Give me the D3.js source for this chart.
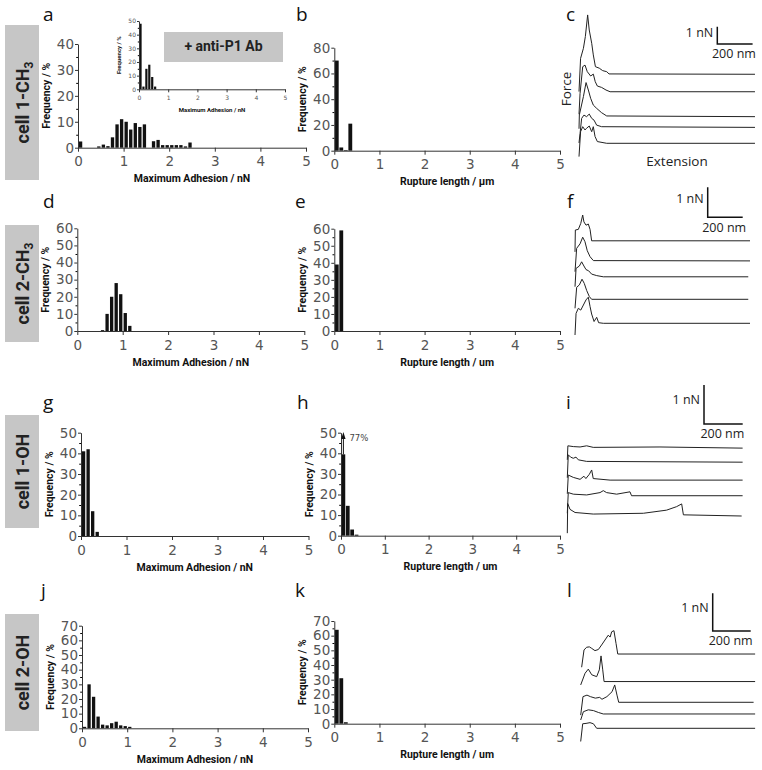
<!DOCTYPE html>
<html>
<head>
<meta charset="utf-8">
<script src="https://cdn.jsdelivr.net/npm/d3@7/dist/d3.min.js"></script>
<style>
  body { margin: 0; background: #fff; }
  svg { display: block; }
</style>
</head>
<body>
<div id="fig"></div>
<script>
// ---- data ----
const binWidth = 0.1;                 // histogram bin (nN or um)
const xTickValues = [0, 1, 2, 3, 4, 5];

// Maximum adhesion histograms (% per 0.1 nN bin, starting at 0)
const adhesionA = [2.4, 0, 0, 0, 0.5, 1.2, 0.6, 4, 9, 11, 10, 7, 9.5, 8, 9, 0, 2.5, 3, 1, 1, 1, 1, 1, 0.5, 2];
const adhesionInset = [48, 2, 15, 18, 9, 2];
const adhesionD = [0, 0, 0, 0, 0, 0.5, 10, 20, 28, 21.5, 10.5, 3];
const adhesionG = [41, 42, 12, 2];
const adhesionJ = [1, 30, 21.5, 8, 2.5, 2, 3.5, 4.5, 2, 1.5, 1];

// Rupture length histograms (% per 0.1 um bin)
const ruptureB = [70, 2.5, 0.5, 21];
const ruptureE = [39, 59];
const ruptureH = [39.5, 14.5, 3, 0.5];
const ruptureK = [64, 31, 1];
const ruptureHOverflow = 77;          // first bin of h is off scale

const rowNames = ["cell 1-CH", "cell 2-CH", "cell 1-OH", "cell 2-OH"];
const rowSubs = ["3", "3", "", ""];
const panelLetters = ["a", "b", "c", "d", "e", "f", "g", "h", "i", "j", "k", "l"];

// force-extension traces: [extension nm, force nN] relative to each baseline
const tracesC = [
  [[0,-1.0],[9,0.92],[25,1.5],[36,2.18],[49,3.43],[58,2.56],[72,1.79],[81,1.12],[93,0.44],[115,0.35],[134,0.21],[157,0.15],[170,0.02],[997,0]],
  [[0,-1.3],[6,-0.1],[21,1.45],[34,1.54],[47,1.16],[66,0.91],[81,1.02],[92,0.58],[104,0.33],[128,0.25],[153,0.1],[176,0],[997,0]],
  [[0,-0.7],[2,0.1],[25,1.16],[40,1.97],[53,1.54],[66,1.06],[81,0.67],[100,0.48],[128,0.23],[157,0.04],[997,0]],
  [[0,-0.9],[6,-0.35],[15,0.52],[28,0.71],[43,0.62],[58,0.77],[72,0.52],[85,0.42],[100,0.13],[128,0.04],[997,0]],
  [[0,-0.77],[9,0.67],[21,0.96],[34,0.77],[43,0.87],[58,1.0],[72,0.67],[81,0.96],[91,0.39],[104,0.1],[157,0],[997,0]]
];
const offsetsC = [3.99, 2.98, 1.54, 0.92, 0];

const tracesF = [
  [[0,-0.37],[2,0.36],[19,0.38],[33,0.58],[44,0.86],[51,0.63],[63,0.52],[76,0.56],[86,0.38],[95,0],[1000,0]],
  [[0,-0.36],[9.5,0.42],[29,0.57],[44,0.79],[57,0.64],[70,0.34],[86,0.14],[105,0.01],[1000,0]],
  [[0,-0.33],[6,0.28],[25,0.36],[38,0.5],[51,0.36],[63,0.24],[78,0.2],[95,0.09],[124,0.04],[162,0],[990,0]],
  [[0,-0.3],[9.5,0.4],[25,0.48],[40,0.67],[53,0.53],[67,0.29],[82,0.09],[95,0],[990,0]],
  [[0,-0.39],[6,0.33],[19,0.5],[33,0.44],[48,0.61],[63,0.78],[76,0.87],[86,0.56],[95,0.31],[109,0.06],[124,0.2],[135,0.02],[162,0],[1000,0]]
];
const offsetsF = [2.75, 2.08, 1.55, 0.8, 0];

const tracesI = [
  [[0,-0.3],[3,0.06],[31,0.04],[66,0.03],[100,0.06],[134,0.02],[479,0.03],[906,0]],
  [[0,-0.4],[5,0.19],[17,0.13],[31,0.1],[45,0.13],[57,0.06],[100,0.02],[906,0]],
  [[0,-0.35],[5,0.13],[31,0.07],[66,0.02],[86,0.1],[96,0.04],[114,0.15],[126,0.26],[134,0.04],[221,0],[906,0]],
  [[0,-0.45],[5,0.08],[31,0.04],[100,0.02],[169,0.08],[186,0.13],[203,0.08],[255,0.04],[324,0.1],[332,0],[906,0]],
  [[0,-0.44],[2,0.32],[14,0.17],[40,0.09],[134,0.05],[393,0.07],[513,0.15],[565,0.24],[591,0.31],[600,0.03],[901,0]]
];
const offsetsI = [1.74, 1.38, 0.92, 0.52, 0];

const tracesL = [
  [[5,-0.35],[17.5,0.11],[31.6,0.18],[45.6,0.19],[58,0.15],[75,0.09],[93,0.12],[110,0.24],[145,0.5],[155,0.45],[163,0.59],[175,0.62],[186,0.28],[195,0],[918,0]],
  [[0,-0.09],[23,0.22],[40,0.33],[58,0.18],[84,0.13],[98,0.31],[107,0.68],[116,0.31],[123,0],[918,0]],
  [[0,-0.34],[12,0.15],[33,0.19],[51,0.15],[77,0.11],[100,0.13],[112,0.08],[138,0.15],[165,0.28],[179,0.46],[191,0.19],[200,0],[910,0]],
  [[0,-0.16],[14,0.06],[40,0.11],[67,0.09],[93,0.04],[119,0],[918,0]],
  [[0,-0.35],[10.5,0.12],[28,0.13],[49,0.15],[67,0.12],[84,0],[918,0]]
];
const offsetsL = [1.97, 1.24, 0.69, 0.38, 0];

const scaleBarForce = 1;   // nN
const scaleBarExt = 200;   // nm

// ---- drawing ----
const width = 762, height = 770;
const svg = d3.select("#fig").append("svg")
  .attr("width", width)
  .attr("height", height)
  .style("font-family", "Roboto, sans-serif");

svg.append("rect").attr("width", width).attr("height", height).attr("fill", "#fff");

// row label boxes
const rowBoxes = [[25, 180], [225, 342], [415, 528], [614, 731]];
rowBoxes.forEach((b, i) => {
  svg.append("rect")
    .attr("x", 5).attr("y", b[0])
    .attr("width", 34).attr("height", b[1] - b[0])
    .attr("fill", "#c6c6c6");
  const t = svg.append("text")
    .attr("transform", "translate(29," + (b[0] + b[1]) / 2 + ")rotate(-90)")
    .attr("text-anchor", "middle")
    .style("font-size", "18px")
    .style("font-weight", "bold")
    .style("fill", "#222");
  t.append("tspan").text(rowNames[i]);
  if (rowSubs[i]) {
    t.append("tspan").attr("dy", 4).style("font-size", "12px").text(rowSubs[i]);
  }
});

// panel letters
const letterX = [[43, 296, 566], [43, 295, 567], [43, 297, 566], [41, 295, 567]];
const letterY = [21, 208, 409, 597];
panelLetters.forEach((l, i) => {
  const r = Math.floor(i / 3), c = i % 3;
  svg.append("text")
    .attr("x", letterX[r][c]).attr("y", letterY[r])
    .style("font-family", "'Open Sans', sans-serif")
    .style("font-size", "19px")
    .style("fill", "#111")
    .text(l);
});

function drawHist(p) {
  const g = svg.append("g");
  const x = d3.scaleLinear().domain([0, 5]).range([p.x0, p.x1]);
  const y = d3.scaleLinear().domain([0, p.ymax]).range([p.yb, p.yt]);
  const fs = p.fs || 13.5;

  g.selectAll("rect.bar")
    .data(p.values.map((v, i) => ({ v: v, i: i })).filter(d => d.v > 0))
    .join("rect")
    .attr("class", "bar")
    .attr("x", d => x((d.i + p.pad[0]) * binWidth))
    .attr("width", x((p.pad[1] - p.pad[0]) * binWidth) - x(0))
    .attr("y", d => y(d.v))
    .attr("height", d => y(0) - y(d.v))
    .attr("fill", "#111");

  const yAxis = g.append("g")
    .attr("transform", "translate(" + p.x0 + ",0)")
    .call(d3.axisLeft(y).tickValues(d3.range(0, p.ymax + 0.1, p.step))
      .tickFormat(d3.format("d"))
      .tickSize(p.tick).tickSizeOuter(0).tickPadding(1));
  g.append("g")
    .attr("transform", "translate(" + p.x0 + ",0)")
    .call(d3.axisLeft(y).tickValues(d3.range(p.step / 2, p.ymax, p.step))
      .tickSize(p.tick * 0.6).tickFormat(""))
    .select(".domain").remove();

  const xAxis = g.append("g")
    .attr("transform", "translate(0," + p.yb + ")")
    .call(d3.axisBottom(x).tickValues(xTickValues)
      .tickFormat(d3.format("d"))
      .tickSize(p.tick + 1).tickSizeOuter(0).tickPadding(p.xPad));

  [yAxis, xAxis].forEach(a => {
    a.selectAll("text")
      .style("font-family", "'DejaVu Sans', sans-serif")
      .style("font-size", fs + "px")
      .style("fill", "#555");
    a.selectAll("line, path").style("stroke", "#333");
  });

  g.append("text")
    .attr("x", (p.x0 + p.x1) / 2).attr("y", p.yb + p.xTitleDy)
    .attr("text-anchor", "middle")
    .attr("dominant-baseline", "middle")
    .style("font-size", p.titleFs + "px")
    .style("font-weight", "bold")
    .style("fill", "#111")
    .text(p.xTitle);

  g.append("text")
    .attr("transform", "translate(" + (p.x0 - p.yTitleDx) + "," + (p.yb + p.yt) / 2 + ")rotate(-90)")
    .attr("text-anchor", "middle")
    .attr("dominant-baseline", "middle")
    .style("font-size", p.titleFs + "px")
    .style("font-weight", "bold")
    .style("fill", "#111")
    .text("Frequency / %");

  return { x: x, y: y, g: g };
}

const leftPad = [0.2, 0.93], midPad = [0.12, 0.97];
const common = { tick: 3, xPad: 5, xTitleDy: 32, yTitleDx: 31, titleFs: 10.5 };

drawHist(Object.assign({}, common, { x0: 78, x1: 306, yb: 147.7, yt: 44, ymax: 40, step: 10,
  values: adhesionA, pad: leftPad, xTitle: "Maximum Adhesion / nN" }));
drawHist({ x0: 139, x1: 285, yb: 89.3, yt: 21, ymax: 50, step: 10, values: adhesionInset,
  pad: [0.15, 0.9], xTitle: "Maximum Adhesion / nN", fs: 6, tick: 2, xPad: 3,
  xTitleDy: 21, yTitleDx: 20, titleFs: 6 });

// "+ anti-P1 Ab" tag
svg.append("rect").attr("x", 164).attr("y", 32).attr("width", 119).attr("height", 30).attr("fill", "#c6c6c6");
svg.append("text").attr("x", 223.5).attr("y", 47).attr("text-anchor", "middle")
  .attr("dominant-baseline", "middle").style("font-size", "14px").style("font-weight", "bold")
  .style("fill", "#222").text("+ anti-P1 Ab");

drawHist(Object.assign({}, common, { x0: 334.3, x1: 560, yb: 150.7, yt: 47.7, ymax: 80, step: 20,
  values: ruptureB, pad: midPad, xTitle: "Rupture length / µm" }));

drawHist(Object.assign({}, common, { x0: 77.3, x1: 304.3, yb: 331, yt: 228.3, ymax: 60, step: 10,
  values: adhesionD, pad: leftPad, xTitle: "Maximum Adhesion / nN" }));
drawHist(Object.assign({}, common, { x0: 334.3, x1: 560, yb: 331, yt: 228.7, ymax: 60, step: 10,
  values: ruptureE, pad: midPad, xTitle: "Rupture length / um" }));

drawHist(Object.assign({}, common, { x0: 81, x1: 308.5, yb: 536, yt: 432.7, ymax: 50, step: 10,
  values: adhesionG, pad: leftPad, xTitle: "Maximum Adhesion / nN" }));
const h = drawHist(Object.assign({}, common, { x0: 341, x1: 560, yb: 535.7, yt: 432.7, ymax: 50, step: 10,
  values: ruptureH, pad: midPad, xTitle: "Rupture length / um" }));

// off-scale arrow on first bar of h
const hx = h.x((midPad[0] + midPad[1]) / 2 * binWidth);
h.g.append("line")
  .attr("x1", hx).attr("x2", hx)
  .attr("y1", h.y(ruptureH[0])).attr("y2", h.y(48.5))
  .style("stroke", "#111").attr("stroke-width", 1);
h.g.append("path")
  .attr("d", "M" + (hx - 2.2) + "," + h.y(47) + "L" + hx + "," + h.y(50.3) + "L" + (hx + 2.2) + "," + h.y(47) + "Z")
  .attr("fill", "#111");
h.g.append("text")
  .attr("x", hx + 6).attr("y", h.y(47))
  .attr("dominant-baseline", "middle")
  .style("font-family", "'DejaVu Sans', sans-serif")
  .style("font-size", "8.5px")
  .style("fill", "#444")
  .text(ruptureHOverflow + "%");

drawHist(Object.assign({}, common, { x0: 82, x1: 308, yb: 728.3, yt: 625.7, ymax: 70, step: 10,
  values: adhesionJ, pad: leftPad, xTitle: "Maximum Adhesion / nN" }));
drawHist(Object.assign({}, common, { x0: 334.3, x1: 560, yb: 723.7, yt: 621, ymax: 70, step: 10,
  values: ruptureK, pad: midPad, xTitle: "Rupture length / um" }));

// force curves
function drawTraces(p) {
  const g = svg.append("g");
  const x = d3.scaleLinear().domain([0, 1000]).range([p.x0, p.x0 + 1000 * p.pxPerNm]);
  const y = d3.scaleLinear().domain([0, 1]).range([p.yb, p.yb - p.pxPerNN]);
  const line = d3.line().x(d => x(d[0])).y(d => y(d[1]));

  g.selectAll("path.trace")
    .data(p.traces.map((t, k) => t.map(d => [d[0], d[1] + p.offsets[k]])))
    .join("path")
    .attr("class", "trace")
    .attr("d", line)
    .attr("fill", "none")
    .attr("stroke", "#222")
    .attr("stroke-width", 1);

  // scale bar
  const cx = p.bar[0], cy = p.bar[1];
  const barH = y(0) - y(scaleBarForce), barW = x(scaleBarExt) - x(0);
  g.append("path")
    .attr("d", "M" + cx + "," + (cy - barH) + "V" + cy + "H" + (cx + barW))
    .attr("fill", "none").attr("stroke", "#111").attr("stroke-width", 1.5);
  g.append("text")
    .attr("x", cx - 4).attr("y", cy - barH * 0.6)
    .attr("text-anchor", "end").attr("dominant-baseline", "middle")
    .style("font-family", "'Open Sans', sans-serif").style("font-size", "12.5px")
    .style("fill", "#222").text(scaleBarForce + " nN");
  g.append("text")
    .attr("x", cx + barW / 2 - 1).attr("y", cy + 11)
    .attr("text-anchor", "middle").attr("dominant-baseline", "middle")
    .style("font-family", "'Open Sans', sans-serif").style("font-size", "12.5px")
    .style("fill", "#222").text(scaleBarExt + " nm");
}

drawTraces({ traces: tracesC, offsets: offsetsC, x0: 579, pxPerNm: 0.1765, yb: 143.3, pxPerNN: 17.3, bar: [717.3, 44] });
drawTraces({ traces: tracesF, offsets: offsetsF, x0: 575, pxPerNm: 0.175, yb: 323.3, pxPerNN: 30, bar: [707.7, 217.3] });
drawTraces({ traces: tracesI, offsets: offsetsI, x0: 567.3, pxPerNm: 0.1935, yb: 516, pxPerNN: 39, bar: [704, 424] });
drawTraces({ traces: tracesL, offsets: offsetsL, x0: 580.7, pxPerNm: 0.19, yb: 728.3, pxPerNN: 37.7, bar: [712.7, 631] });

// axis words for panel c
svg.append("text")
  .attr("transform", "translate(567,89)rotate(-90)")
  .attr("text-anchor", "middle").attr("dominant-baseline", "middle")
  .style("font-family", "'Open Sans', sans-serif").style("font-size", "13.5px")
  .style("fill", "#222").text("Force");
svg.append("text")
  .attr("x", 677).attr("y", 162)
  .attr("text-anchor", "middle").attr("dominant-baseline", "middle")
  .style("font-family", "'Open Sans', sans-serif").style("font-size", "13.5px")
  .style("fill", "#222").text("Extension");
</script>
</body>
</html>
